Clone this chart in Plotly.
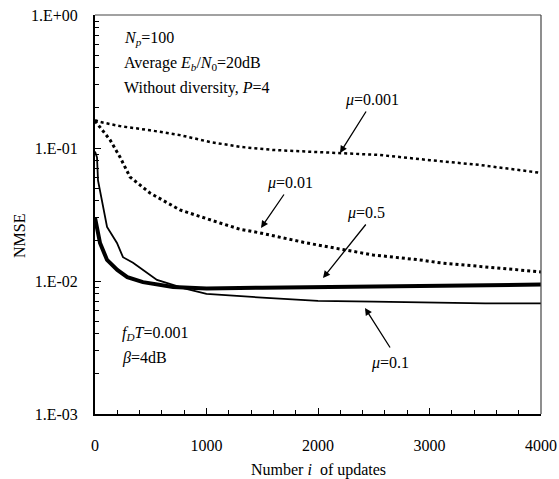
import plotly.graph_objects as go

# ---- data ----
x_mu0001 = [0, 45, 224, 493, 762, 1031, 1300, 1600, 1900, 2197, 2556, 3004, 3453, 3700, 4000]
y_mu0001 = [0.162, 0.157, 0.146, 0.136, 0.125, 0.111, 0.102, 0.0966, 0.094, 0.0916, 0.0886, 0.081, 0.0745, 0.070, 0.065]

x_mu001 = [0, 45, 135, 224, 314, 493, 762, 1121, 1300, 1480, 1901, 2493, 2915, 3094, 3500, 4000]
y_mu001 = [0.160, 0.144, 0.115, 0.0855, 0.0605, 0.0459, 0.0342, 0.0273, 0.0245, 0.023, 0.0193, 0.0157, 0.0144, 0.0137, 0.0127, 0.0117]

x_mu05 = [0, 20, 45, 108, 200, 290, 430, 700, 1000, 1500, 2000, 2500, 3000, 3500, 4000]
y_mu05 = [0.030, 0.024, 0.0193, 0.0144, 0.0121, 0.0107, 0.0098, 0.0090, 0.0088, 0.0089, 0.0090, 0.0091, 0.0092, 0.0093, 0.0094]

x_mu01 = [0, 18, 27, 63, 108, 197, 251, 341, 466, 556, 800, 1000, 1500, 2000, 2500, 3000, 3500, 4000]
y_mu01 = [0.094, 0.085, 0.057, 0.039, 0.0255, 0.0193, 0.0151, 0.0137, 0.0115, 0.0102, 0.0088, 0.0080, 0.0075, 0.0071, 0.0070, 0.0069, 0.0068, 0.0068]

x_ticks = [0, 1000, 2000, 3000, 4000]
y_ticks = [1e-3, 1e-2, 1e-1, 1e0]
y_ticktext = ["1.E-03", "1.E-02", "1.E-01", "1.E+00"]
y_minor = [m * 10 ** e for e in (-3, -2, -1) for m in range(2, 10)]

FONT = "Liberation Serif, Times New Roman, serif"

fig = go.Figure()
fig.add_trace(go.Scatter(x=x_mu0001, y=y_mu0001, mode="lines",
                         line=dict(color="black", width=2.5, dash="dot")))
fig.add_trace(go.Scatter(x=x_mu001, y=y_mu001, mode="lines",
                         line=dict(color="black", width=3, dash="dot")))
fig.add_trace(go.Scatter(x=x_mu05, y=y_mu05, mode="lines",
                         line=dict(color="black", width=4)))
fig.add_trace(go.Scatter(x=x_mu01, y=y_mu01, mode="lines",
                         line=dict(color="black", width=1.8)))

W, H = 559, 479
L, R, T, B = 95, 541, 15, 414


def px(xp):
    return (xp - L) / (R - L)


def py(yp):
    return (B - yp) / (B - T)


def dx(xp):
    return (xp - L) / (R - L) * 4000


def dlog(yp):
    return -(yp - T) / (B - T) * 3


ann = []
# info texts
for txt, xp, yp in [
    ("<i>N</i><sub><i>p</i></sub>=100", 122, 38),
    ("Average <i>E</i><sub><i>b</i></sub>/<i>N</i><sub>0</sub>=20dB", 122, 63),
    ("Without diversity, <i>P</i>=4", 122, 88),
    ("<i>f</i><sub><i>D</i></sub><i>T</i>=0.001", 120, 333),
    ("<i>β</i>=4dB", 120, 358),
]:
    ann.append(dict(text=txt, x=px(xp), y=py(yp), xref="paper", yref="paper",
                    xanchor="left", yanchor="middle", showarrow=False,
                    font=dict(family=FONT, size=16, color="black")))

# curve labels
for txt, xp, yp in [
    ("<i>μ</i>=0.001", 372, 100),
    ("<i>μ</i>=0.01", 290, 183),
    ("<i>μ</i>=0.5", 366, 213),
    ("<i>μ</i>=0.1", 390, 363),
]:
    ann.append(dict(text=txt, x=px(xp), y=py(yp), xref="paper", yref="paper",
                    xanchor="center", yanchor="middle", showarrow=False,
                    font=dict(family=FONT, size=16, color="black")))

# arrows (head, tail)
for hx, hy, tx, ty in [
    (340, 153, 367, 110),
    (261, 228, 285, 193),
    (323, 278, 367, 223),
    (365, 308, 391, 349),
]:
    ann.append(dict(text="", x=dx(hx), y=dlog(hy), xref="x", yref="y",
                    ax=tx - hx, ay=ty - hy, axref="pixel", ayref="pixel",
                    showarrow=True, arrowhead=2, arrowsize=1.1, arrowwidth=1.3,
                    arrowcolor="black"))

# axis titles
ann.append(dict(text="Number <i>i</i>  of updates", x=px(318), y=py(470),
                xref="paper", yref="paper", showarrow=False,
                xanchor="center", yanchor="middle",
                font=dict(family=FONT, size=16, color="black")))
ann.append(dict(text="NMSE", x=px(19), y=py(236), xref="paper", yref="paper",
                showarrow=False, textangle=-90, xanchor="center", yanchor="middle",
                font=dict(family=FONT, size=16, color="black")))

fig.update_layout(
    width=W, height=H,
    margin=dict(l=L, r=W - R, t=T, b=H - B, autoexpand=False),
    paper_bgcolor="white", plot_bgcolor="white",
    showlegend=False,
    annotations=ann,
    font=dict(family=FONT, size=16, color="black"),
    shapes=[
        dict(type="line", xref="paper", yref="paper", x0=0, x1=1, y0=1, y1=1,
             line=dict(color="#444", width=1.2)),
        dict(type="line", xref="paper", yref="paper", x0=1, x1=1, y0=0, y1=1,
             line=dict(color="#444", width=1.2)),
    ],
)
fig.update_xaxes(range=[0, 4000], tickvals=x_ticks, ticks="inside", ticklen=6,
                 tickwidth=1.2, tickcolor="black", showgrid=False, zeroline=False,
                 showline=True, linecolor="black", linewidth=2,
                 ticklabelstandoff=16, automargin=False,
                 minor=dict(dtick=200, ticks="inside", ticklen=4, tickcolor="black",
                            tickwidth=1, showgrid=False),
                 tickfont=dict(family=FONT, size=16, color="black"))
fig.update_yaxes(type="log", range=[-3, 0], tickvals=y_ticks, ticktext=y_ticktext,
                 ticks="inside", ticklen=6, tickwidth=1.2, tickcolor="black",
                 showgrid=False, zeroline=False, showline=True, linecolor="black",
                 linewidth=2, ticklabelstandoff=12, automargin=False,
                 minor=dict(tickvals=y_minor, ticks="inside", ticklen=4,
                            tickcolor="black", tickwidth=1, showgrid=False),
                 tickfont=dict(family=FONT, size=16, color="black"))

fig.write_html("out.html", config={"displayModeBar": False},
               post_script="document.body.style.margin='0';")
